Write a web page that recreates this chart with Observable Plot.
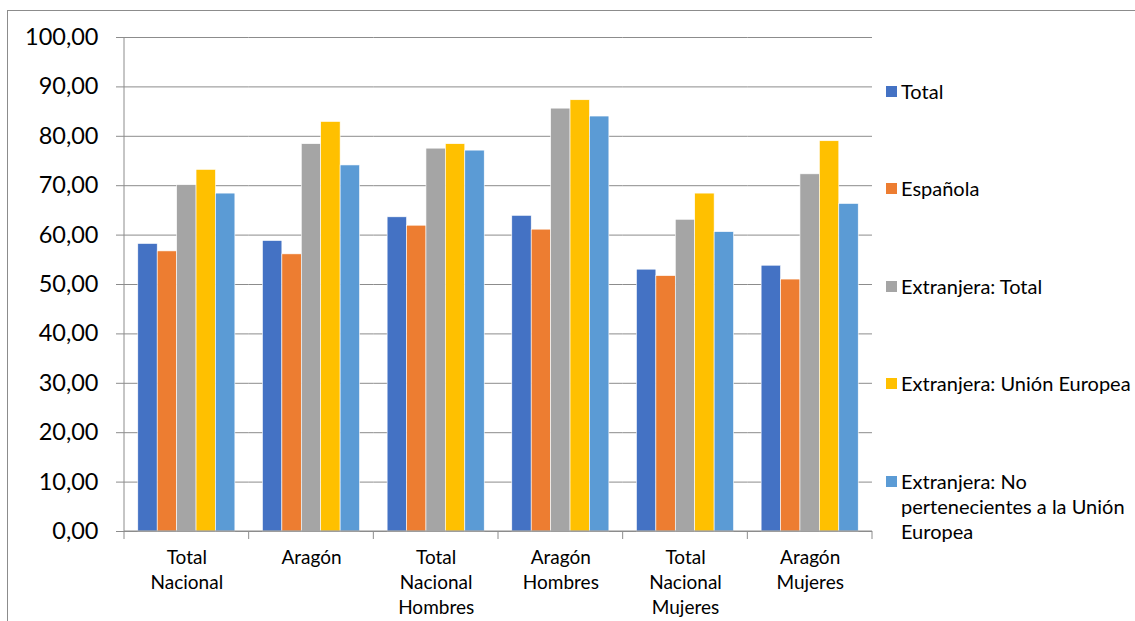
<!DOCTYPE html>
<html><head><meta charset="utf-8">
<script src="https://cdn.jsdelivr.net/npm/d3@7"></script>
<script src="https://cdn.jsdelivr.net/npm/@observablehq/plot@0.6"></script>
<style>
html,body{margin:0;padding:0;background:#fff;overflow:hidden}
#wrap{position:relative;width:1135px;height:621px;font-family:Lato,sans-serif;overflow:hidden}
#border{position:absolute;left:7px;top:10px;width:1200px;height:700px;border:1px solid #8c8c8c;box-sizing:border-box}
#chart{position:absolute;left:0;top:0}
#legend{position:absolute;left:886px;top:0}
.item{position:absolute;left:0;display:flex;align-items:flex-start;font-size:20px;line-height:25px;color:#000;white-space:pre}
.sw{width:11px;height:11px;margin-top:7px;margin-right:4px;flex:none}
</style></head><body><div id="wrap"><div id="border"></div><div id="chart"></div><div id="legend"></div></div>
<script>
const categories = ["Total Nacional", "Aragón", "Total Nacional Hombres", "Aragón Hombres", "Total Nacional Mujeres", "Aragón Mujeres"];
const categoryLabels = ["Total\nNacional", "Aragón", "Total\nNacional\nHombres", "Aragón\nHombres", "Total\nNacional\nMujeres", "Aragón\nMujeres"];
const series = ["Total", "Española", "Extranjera: Total", "Extranjera: Unión Europea", "Extranjera: No pertenecientes a la Unión Europea"];
const legendLabels = ["Total", "Española", "Extranjera: Total", "Extranjera: Unión Europea", "Extranjera: No\npertenecientes a la Unión\nEuropea"];
const colors = ["#4472C4", "#ED7D31", "#A5A5A5", "#FFC000", "#5B9BD5"];
const total    = [58.2, 58.8, 63.6, 63.9, 53.0, 53.8];
const espanola = [56.7, 56.1, 61.9, 61.1, 51.7, 51.0];
const extTotal = [70.1, 78.4, 77.5, 85.6, 63.1, 72.3];
const extUE    = [73.2, 82.9, 78.4, 87.3, 68.4, 79.0];
const extNoUE  = [68.4, 74.1, 77.1, 84.0, 60.6, 66.3];
const yTicks = [0, 10, 20, 30, 40, 50, 60, 70, 80, 90, 100];

const seriesValues = [total, espanola, extTotal, extUE, extNoUE];
const data = [];
categories.forEach((c, i) => series.forEach((s, j) => data.push({cat: c, series: s, value: seriesValues[j][i]})));

const chart = Plot.plot({
  width: 1135, height: 621,
  marginLeft: 124, marginRight: 263, marginTop: 37, marginBottom: 90,
  style: {fontFamily: "Lato, sans-serif", color: "#000", background: "transparent"},
  fx: {domain: categories, padding: 0, round: false, label: null},
  x: {domain: series, paddingInner: 0, paddingOuter: 0.71, round: false, axis: null},
  y: {domain: [0, 100], label: null},
  color: {domain: series, range: colors},
  marks: [
    Plot.gridY({ticks: yTicks, stroke: "#8c8c8c", strokeOpacity: 1}),
    Plot.barY(data, {fx: "cat", x: "series", y: "value", fill: "series", stroke: "#fff", strokeWidth: 0.6}),
    Plot.axisY({ticks: yTicks, tickFormat: d => d.toFixed(2).replace(".", ","), tickSize: 8, tickPadding: 18, fontSize: 23.5, stroke: "#8c8c8c", strokeOpacity: 1, fill: "#000", label: null}),
    Plot.axisFx({anchor: "bottom", tickSize: 0, tickPadding: 15, fontSize: 19, lineHeight: 1.32, fill: "#000", label: null,
      tickFormat: c => categoryLabels[categories.indexOf(c)]})
  ]
});
document.getElementById("chart").appendChild(chart);

// Excel-style axis lines and category boundary ticks from the library's scales
const fx = chart.scale("fx"), y = chart.scale("y");
const bw = fx.bandwidth ?? ((fx.range[1] - fx.range[0]) / categories.length);
const edges = categories.map(c => fx.apply(c)).concat([fx.apply(categories[categories.length - 1]) + bw]);
const svg = d3.select(chart);
const g = svg.append("g").attr("stroke", "#8c8c8c");
g.append("line").attr("x1", edges[0]).attr("x2", edges[0]).attr("y1", y.apply(100)).attr("y2", y.apply(0));
g.append("line").attr("x1", edges[0]).attr("x2", edges[edges.length - 1]).attr("y1", y.apply(0)).attr("y2", y.apply(0));
edges.forEach(e => g.append("line").attr("x1", e).attr("x2", e).attr("y1", y.apply(0)).attr("y2", y.apply(0) + 8));

// Legend
const legend = document.getElementById("legend");
legendLabels.forEach((l, i) => {
  const it = document.createElement("div");
  it.className = "item";
  it.style.top = (78.5 + i * 97.6) + "px";
  const sw = document.createElement("div");
  sw.className = "sw"; sw.style.background = colors[i];
  const tx = document.createElement("div");
  tx.textContent = l;
  it.appendChild(sw); it.appendChild(tx);
  legend.appendChild(it);
});
</script></body></html>
